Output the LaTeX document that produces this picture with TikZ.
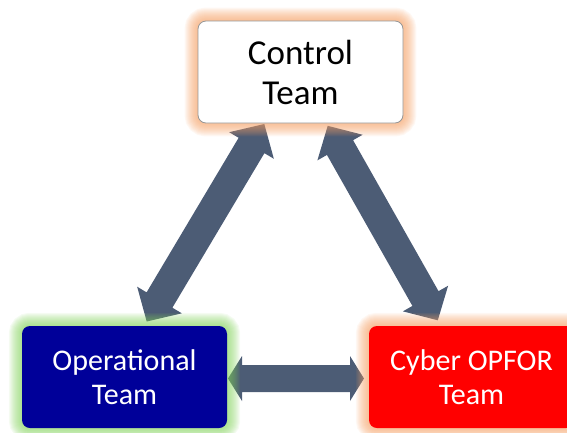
\documentclass[tikz,border=0pt]{standalone}
\usepackage{fontspec}
\setmainfont{Carlito}
\usetikzlibrary{calc}
\pgfdeclarelayer{arrowlayer}
\pgfdeclarelayer{glowlayer}
\pgfsetlayers{arrowlayer,glowlayer,main}
\definecolor{arrowc}{RGB}{76,92,117}
\definecolor{glowor}{RGB}{245,160,100}
\definecolor{glowgr}{RGB}{130,210,90}
\definecolor{navyb}{RGB}{0,0,153}
\definecolor{redb}{RGB}{255,0,0}
\definecolor{bordergray}{RGB}{150,150,150}
% #1 start, #2 end, #3 shaft half width, #4 head half width, #5 head length
\newcommand\blockarrow[5]{%
  \begin{pgfonlayer}{arrowlayer}
  \path ($(#1)!#5!(#2)$) coordinate (ba1) ($(#2)!#5!(#1)$) coordinate (ba2);
  \fill[arrowc] (#1) -- ($(ba1)!#4!90:(#2)$) -- ($(ba1)!#3!90:(#2)$)
    -- ($(ba2)!#3!-90:(#1)$) -- ($(ba2)!#4!-90:(#1)$) -- (#2)
    -- ($(ba2)!#4!90:(#1)$) -- ($(ba2)!#3!90:(#1)$)
    -- ($(ba1)!#3!-90:(#2)$) -- ($(ba1)!#4!-90:(#2)$) -- cycle;
  \end{pgfonlayer}}
\newcommand\glowbox[2]{%
  \begin{pgfonlayer}{glowlayer}
  \foreach \w in {2,4,...,26}
    \draw[#2, line width=\w pt, opacity=0.075, rounded corners=8pt]
      (#1.south west) rectangle (#1.north east);
  \end{pgfonlayer}}
\tikzset{
  teambox/.style={rectangle, rounded corners=8pt, minimum width=205pt,
    minimum height=102pt, inner sep=0pt, align=center}
}
\begin{document}
\begin{tikzpicture}[x=1pt,y=-1pt]
\useasboundingbox (0,0) rectangle (567,432);
\node[teambox, fill=white, draw=bordergray, line width=0.8pt,
  font=\fontsize{35}{40}\selectfont] (ctrl) at (300.5,72) {Control\\Team};
\node[teambox, fill=navyb, text=white,
  font=\fontsize{30}{34}\selectfont] (ops) at (124.5,377) {Operational\\Team};
\node[teambox, fill=redb, text=white,
  font=\fontsize{30}{34}\selectfont] (opf) at (471.5,377) {Cyber OPFOR\\Team};
\glowbox{ctrl}{glowor}
\glowbox{ops}{glowgr}
\glowbox{opf}{glowor}
\coordinate (lt) at (264.3,124);
\coordinate (lb) at (146.7,321.5);
\coordinate (rt) at (327.7,125.8);
\coordinate (rb) at (437.8,320.3);
\coordinate (hl) at (228,378.5);
\coordinate (hr) at (364,378.5);
\blockarrow{lb}{lt}{15pt}{26pt}{25pt}
\blockarrow{rt}{rb}{15pt}{26pt}{25pt}
\blockarrow{hl}{hr}{13.5pt}{22.5pt}{14pt}
\end{tikzpicture}
\end{document}
